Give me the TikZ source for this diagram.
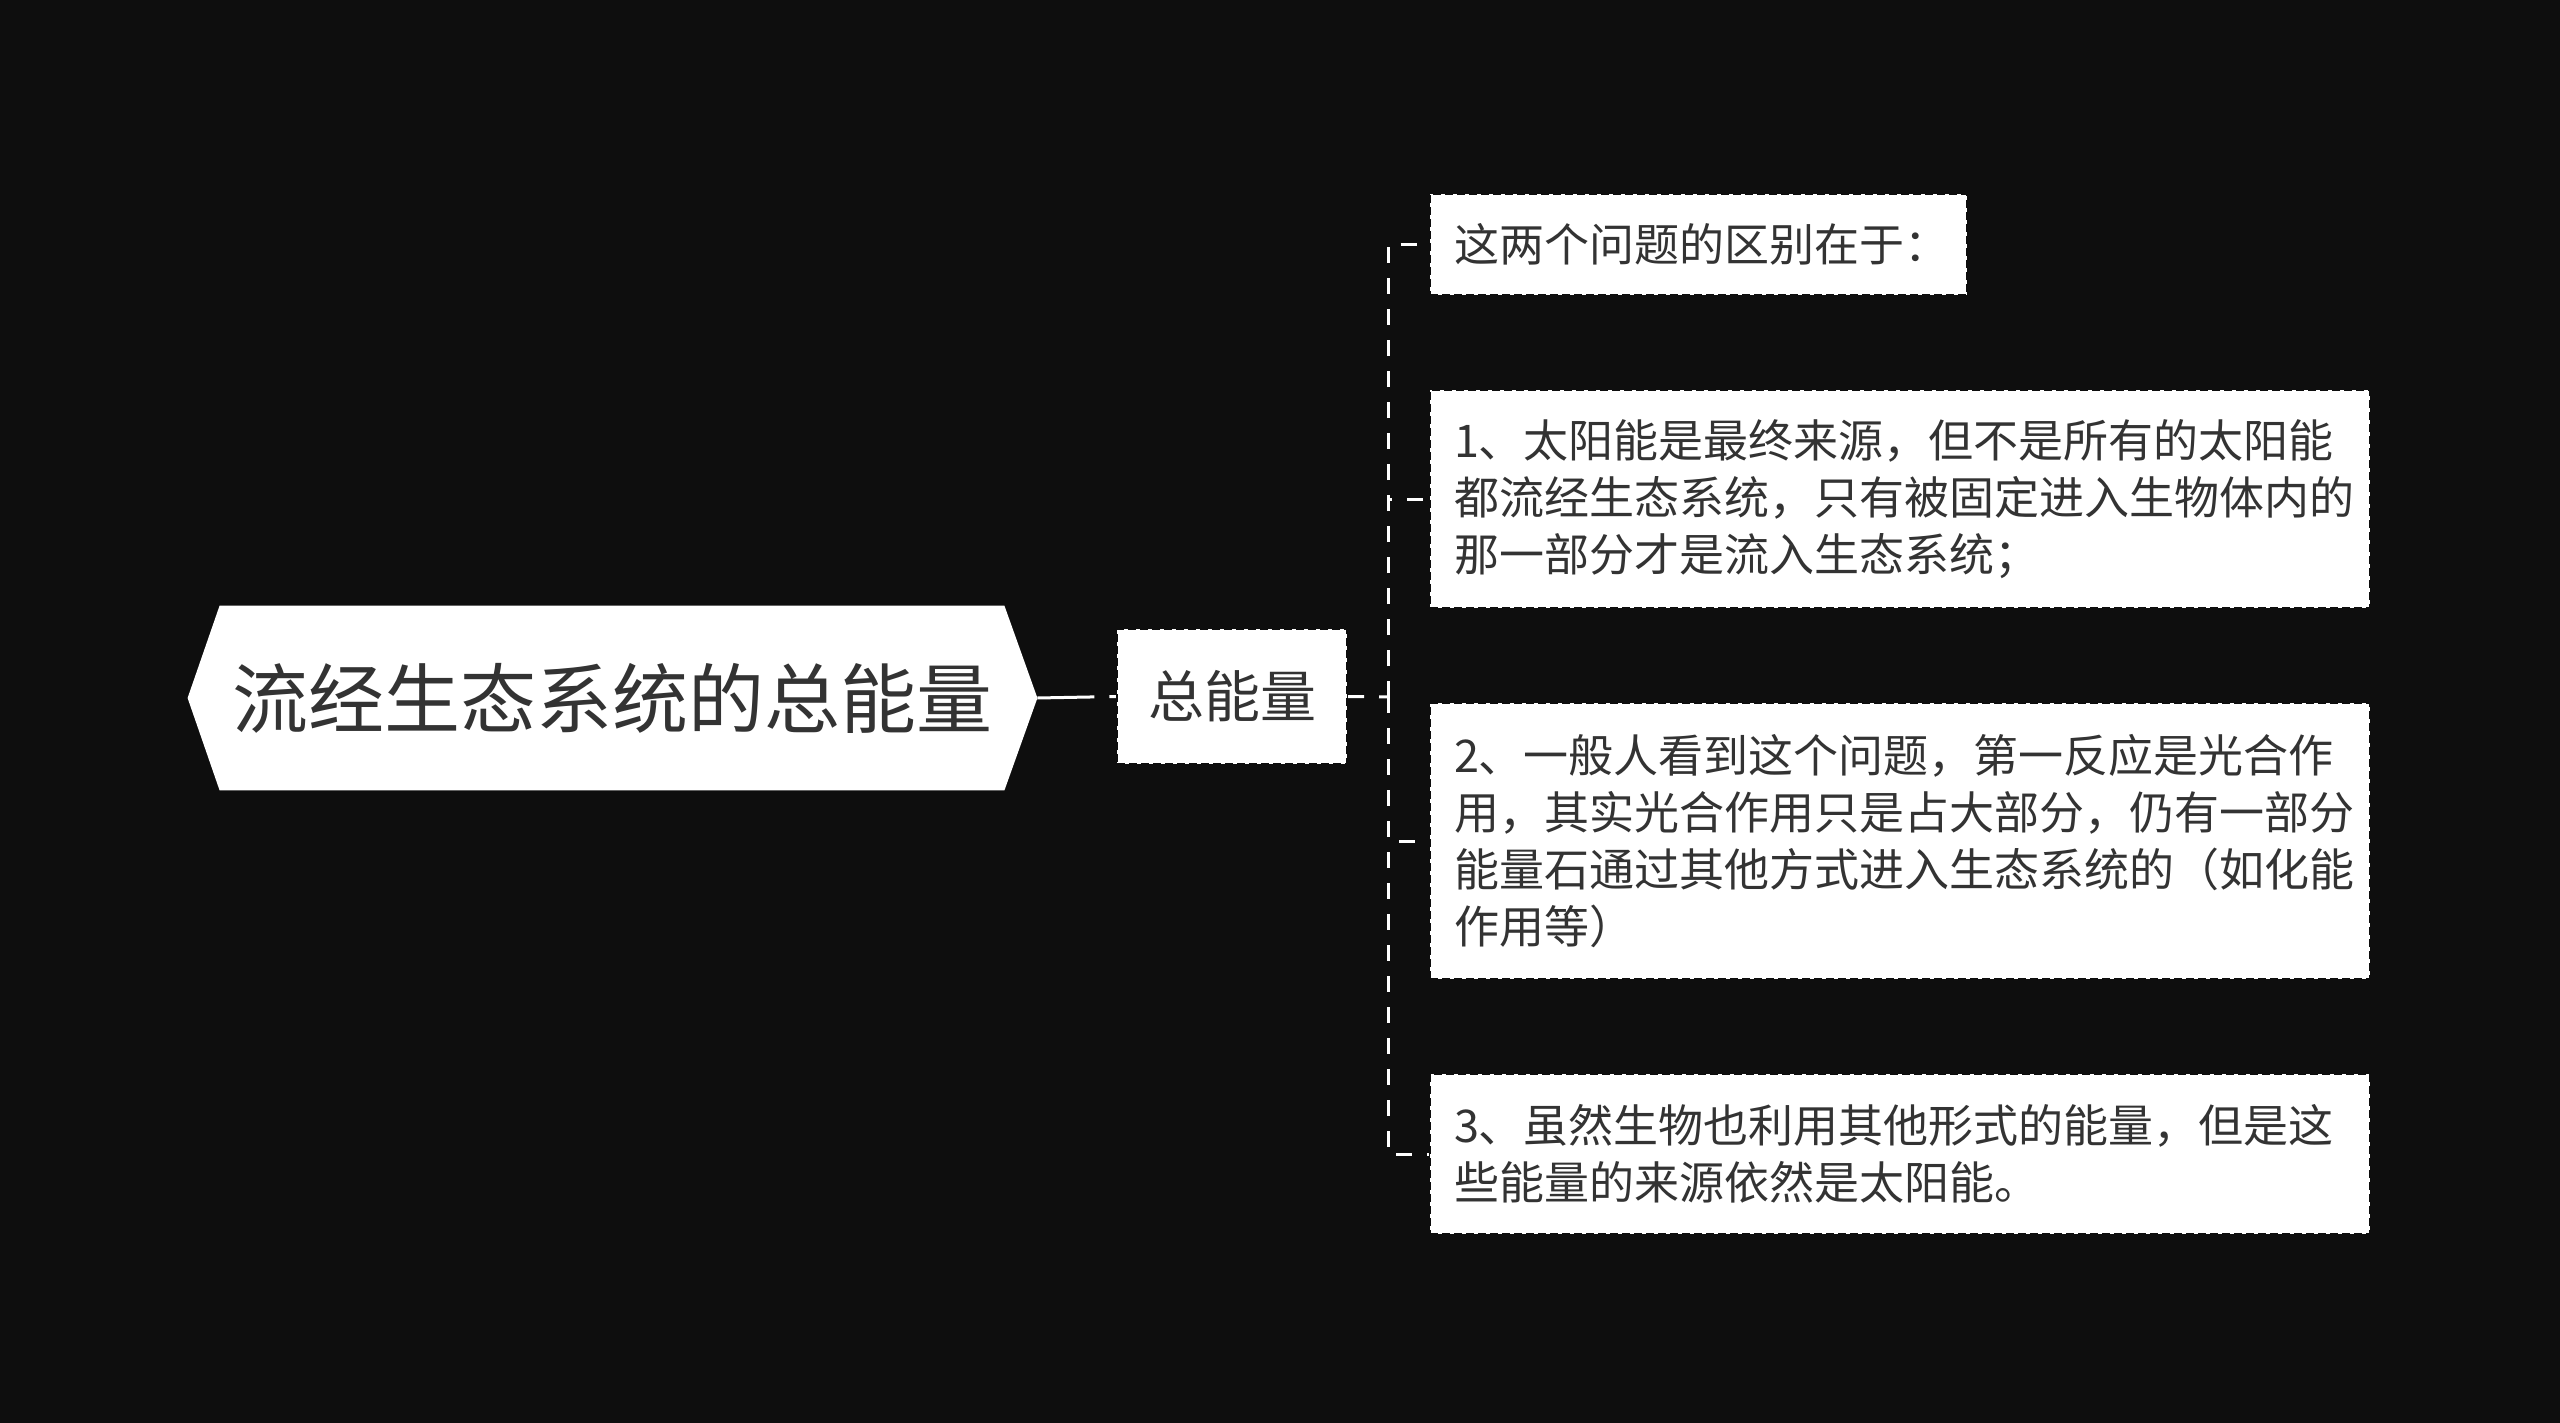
\documentclass[tikz,border=0pt]{standalone}
\usepackage{fontspec}
\newfontfamily\cjk{Noto Sans CJK SC}
\usetikzlibrary{backgrounds}
\definecolor{bg}{HTML}{0E0E0E}
\definecolor{txt}{HTML}{333333}
\begin{document}
\begin{tikzpicture}[x=0.5pt,y=-0.5pt,
  conn/.style={draw=white,line width=1.5pt,dash pattern=on 8pt off 7.5pt},
  boxborder/.style={fill=white,draw=bg,line width=1pt,dash pattern=on 4pt off 2pt},
  leaf/.style={boxborder,anchor=north west,inner xsep=12pt,inner ysep=0pt,
    text width=446pt,align=left,text=txt,
    font=\cjk\fontsize{22.5}{28.5}\selectfont},
  mid/.style={boxborder,inner sep=0pt,minimum width=115pt,minimum height=67.5pt,
    text=txt,font=\cjk\fontsize{28}{34}\selectfont},
  rootnode/.style={inner sep=0pt,minimum width=424.5pt,minimum height=92pt,
    text=txt,font=\cjk\fontsize{38}{46}\selectfont}]
\useasboundingbox (0,0) rectangle (2560,1423);

\node[rootnode] (root) at (612.5,698) {流经生态系统的总能量};
\node[mid] (zn) at (1232,696.5) {总能量};

\node[leaf,text width=244.5pt,minimum height=50.5pt] (b1) at (1429,193) {这两个问题的区别在于：};
\node[leaf,minimum height=109pt] (b2) at (1429,389) {1、太阳能是最终来源，但不是所有的太阳能\\都流经生态系统，只有被固定进入生物体内的\\那一部分才是流入生态系统；};
\node[leaf,minimum height=138pt] (b3) at (1429,702) {2、一般人看到这个问题，第一反应是光合作\\用，其实光合作用只是占大部分，仍有一部分\\能量石通过其他方式进入生态系统的（如化能\\作用等）};
\node[leaf,minimum height=80pt] (b4) at (1429,1073) {3、虽然生物也利用其他形式的能量，但是这\\些能量的来源依然是太阳能。};

\begin{scope}[on background layer]
  \fill[bg] (0,0) rectangle (2560,1423);
  \fill[white] (root.west) -- ([xshift=16pt]root.north west) -- ([xshift=-16.5pt]root.north east)
    -- (root.east) -- ([xshift=-16.5pt]root.south east) -- ([xshift=16pt]root.south west) -- cycle;
  \draw[conn,dash pattern=on 28.5pt off 7.5pt on 6pt off 20pt] (root.east) -- (zn.west);
  \coordinate (j) at (1388,697);
  \draw[conn] (zn.east) -- (j);
  \draw[conn] (j) |- (b1.west);
  \draw[conn] (j) |- (b2.west);
  \draw[conn] (j) |- (b3.west);
  \draw[conn] (j) |- (b4.west);
\end{scope}
\end{tikzpicture}
\end{document}
